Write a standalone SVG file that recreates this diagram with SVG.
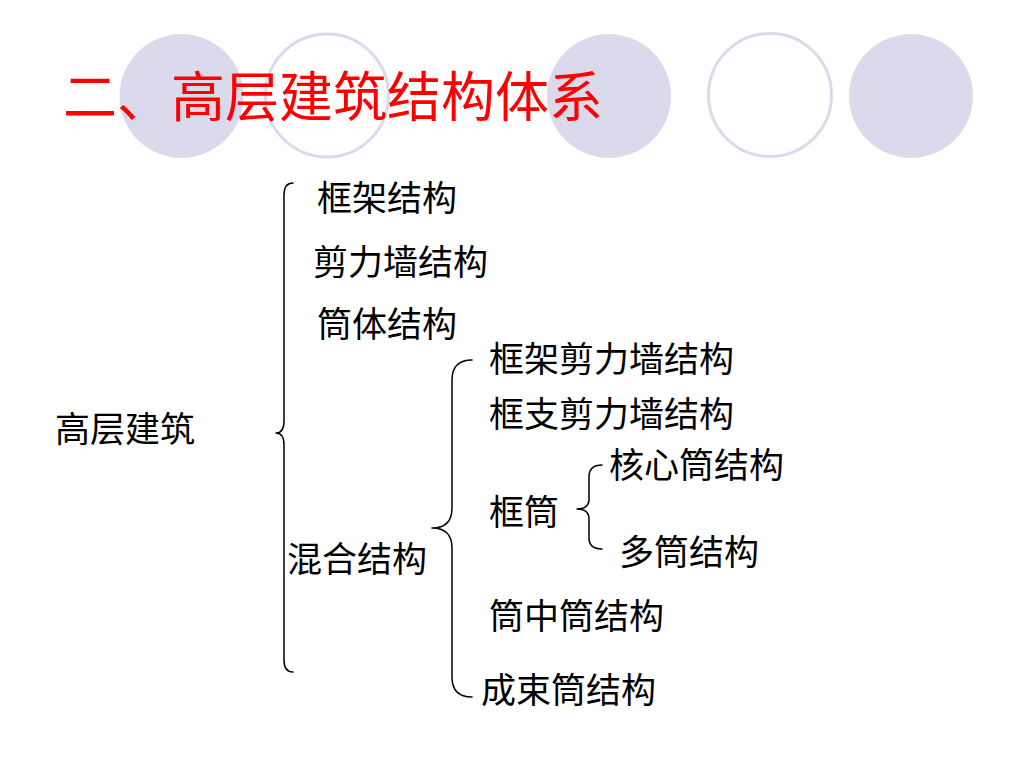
<svg xmlns="http://www.w3.org/2000/svg" width="1024" height="768" viewBox="0 0 1024 768">
<style>
.bg{fill:#ffffff}
.dot{fill:#DADAEC;stroke:none}
.ring{fill:none;stroke:#DADAEC;stroke-width:3}
.title{font-family:"Noto Sans CJK SC","Noto Sans",sans-serif;font-size:54px;fill:#FF0000}
.t{font-family:"Noto Sans CJK SC","Noto Sans",sans-serif;font-size:35px;fill:#000000}
.brace{fill:none;stroke:#000000;stroke-width:1.5;stroke-linecap:round;stroke-linejoin:round}
</style>
<rect class="bg" x="0" y="0" width="1024" height="768"/>
<g id="decor">
<circle class="dot" cx="181.5" cy="96" r="62"/>
<circle class="ring" cx="327" cy="95.5" r="61.5"/>
<circle class="dot" cx="609" cy="96" r="62"/>
<circle class="ring" cx="770" cy="95" r="61.5"/>
<circle class="dot" cx="911" cy="96" r="62"/>
</g>
<g id="title"><text class="title" x="63" y="117">二、高层建筑结构体系</text></g>
<g id="connectors">
<path class="brace" d="M293,183 Q284,183 284,195 L284,421 Q284,433 276,433 Q284,433 284,445 L284,660 Q284,672 293,672"/>
<path class="brace" d="M472,360 Q452,360 452,380 L452,508 Q452,528 432,528 Q452,528 452,548 L452,677 Q452,697 472,697"/>
<path class="brace" d="M602,465 Q589,465 589,477 L589,499 Q589,509 577,509 Q589,509 589,519 L589,538 Q589,549 602,549"/>
</g>
<g id="n-root"><text class="t" x="55" y="442">高层建筑</text></g>
<g id="n-frame"><text class="t" x="317" y="211">框架结构</text></g>
<g id="n-shearwall"><text class="t" x="313" y="275">剪力墙结构</text></g>
<g id="n-tube"><text class="t" x="317" y="337">筒体结构</text></g>
<g id="n-mixed"><text class="t" x="287" y="572">混合结构</text></g>
<g id="n-frame-shear"><text class="t" x="489" y="372">框架剪力墙结构</text></g>
<g id="n-framesupport-shear"><text class="t" x="489" y="427">框支剪力墙结构</text></g>
<g id="n-frametube"><text class="t" x="489" y="525">框筒</text></g>
<g id="n-core"><text class="t" x="609" y="478">核心筒结构</text></g>
<g id="n-multi"><text class="t" x="619" y="565">多筒结构</text></g>
<g id="n-tubeintube"><text class="t" x="489" y="629">筒中筒结构</text></g>
<g id="n-bundled"><text class="t" x="481" y="703">成束筒结构</text></g>
</svg>
